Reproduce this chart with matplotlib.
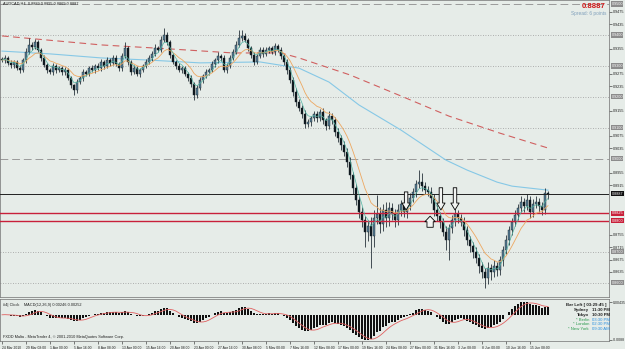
import numpy as np
import pandas as pd
import matplotlib
matplotlib.use('Agg')
import matplotlib.pyplot as plt
import matplotlib.transforms as mtrans

plt.rcParams['font.family'] = ['Liberation Sans', 'DejaVu Sans']

# AUDCAD H4 closes, in pips (~2 H4 bars per value)
close_pips = [
    9319, 9326, 9310, 9303, 9313, 9293, 9287, 9319, 9345, 9368,
    9361, 9377, 9352, 9326, 9303, 9287, 9280, 9300, 9287, 9293,
    9280, 9287, 9261, 9238, 9222, 9248, 9261, 9280, 9274, 9293,
    9287, 9300, 9293, 9313, 9300, 9319, 9310, 9326, 9306, 9293,
    9332, 9358, 9313, 9280, 9293, 9274, 9287, 9300, 9313, 9326,
    9339, 9358, 9352, 9384, 9400, 9377, 9335, 9313, 9300, 9287,
    9293, 9274, 9261, 9242, 9206, 9229, 9255, 9267, 9280, 9287,
    9306, 9319, 9332, 9326, 9287, 9300, 9326, 9345, 9368, 9390,
    9397, 9384, 9358, 9335, 9313, 9332, 9352, 9339, 9352, 9358,
    9345, 9364, 9352, 9332, 9313, 9287, 9255, 9216, 9184, 9164,
    9145, 9112, 9119, 9132, 9145, 9132, 9151, 9125, 9106, 9138,
    9125, 9087, 9067, 9045, 9022, 8990, 8948, 8906, 8867, 8828,
    8802, 8764, 8783, 8751, 8809, 8822, 8789, 8835, 8809, 8841,
    8822, 8802, 8835, 8854, 8828, 8848, 8873, 8893, 8919, 8925,
    8912, 8899, 8893, 8873, 8835, 8815, 8796, 8764, 8738, 8777,
    8802, 8822, 8809, 8796, 8770, 8738, 8718, 8699, 8680, 8654,
    8634, 8615, 8647, 8634, 8654, 8641, 8673, 8706, 8738, 8770,
    8796, 8819, 8841, 8861, 8848, 8867, 8828, 8854, 8861, 8848,
    8835, 8889, 8887]
first_open = 9322

# wick lengths beyond the body, pips
hi_ext = [
    6, 8, 5, 9, 7, 6, 10, 8, 12, 22,
    8, 10, 6, 7, 9, 5, 8, 10, 6, 8,
    7, 9, 6, 8, 5, 10, 7, 9, 6, 8,
    9, 6, 8, 10, 7, 9, 6, 11, 8, 7,
    10, 19, 8, 6, 9, 7, 8, 6, 10, 9,
    8, 12, 7, 14, 23, 9, 7, 8, 6, 9,
    7, 8, 6, 9, 7, 10, 8, 6, 9, 7,
    10, 8, 12, 7, 9, 8, 10, 9, 12, 26,
    20, 9, 7, 8, 10, 7, 9, 8, 10, 6,
    8, 9, 7, 10, 6, 8, 10, 9, 12, 8,
    10, 12, 9, 8, 11, 9, 10, 12, 8, 15,
    10, 9, 12, 10, 14, 12, 15, 10, 12, 14,
    18, 12, 20, 30, 25, 60, 22, 18, 25, 20,
    18, 15, 20, 14, 18, 12, 16, 14, 12, 39,
    30, 14, 12, 16, 12, 15, 14, 12, 18, 14,
    16, 20, 14, 12, 15, 12, 14, 12, 16, 14,
    12, 14, 20, 15, 18, 12, 14, 12, 16, 14,
    12, 16, 14, 20, 12, 18, 14, 16, 18, 12,
    14, 16, 6]
lo_ext = [
    7, 9, 6, 8, 10, 6, 9, 7, 8, 6,
    9, 7, 8, 10, 6, 9, 7, 8, 10, 6,
    8, 10, 7, 9, 16, 8, 6, 9, 7, 8,
    6, 9, 7, 8, 10, 6, 9, 8, 7, 10,
    8, 7, 9, 10, 6, 8, 9, 7, 6, 8,
    9, 7, 8, 6, 8, 10, 9, 7, 10, 8,
    9, 8, 10, 9, 16, 10, 8, 9, 7, 8,
    7, 9, 8, 10, 8, 9, 7, 8, 6, 8,
    9, 7, 10, 8, 9, 8, 7, 9, 8, 10,
    7, 9, 8, 10, 9, 12, 10, 14, 12, 10,
    14, 12, 10, 13, 10, 12, 9, 14, 12, 10,
    12, 14, 12, 15, 12, 16, 14, 18, 15, 20,
    22, 50, 30, 104, 35, 20, 28, 22, 30, 25,
    18, 22, 16, 20, 15, 18, 14, 12, 15, 14,
    16, 12, 14, 15, 18, 16, 20, 14, 32, 65,
    16, 18, 15, 14, 20, 16, 18, 20, 15, 22,
    20, 32, 18, 24, 16, 20, 15, 18, 14, 16,
    15, 12, 16, 14, 18, 14, 20, 16, 14, 18,
    16, 12, 18]

# slow moving averages (bar index, price)
red_ma_bar = [0, 33, 56, 77, 93, 99, 116, 133, 149, 166, 182]
red_ma_val = [0.9397, 0.9368, 0.9355, 0.9342, 0.9342, 0.9326, 0.9271,
              0.9203, 0.9138, 0.9083, 0.9035]
blue_ma_bar = [0, 16, 33, 49, 66, 86, 99, 109, 119, 133, 148, 155, 165, 170, 182]
blue_ma_val = [0.9348, 0.9339, 0.9326, 0.9319, 0.9310, 0.9313, 0.9293, 0.9248,
               0.9174, 0.9093, 0.8996, 0.8964, 0.8925, 0.8912, 0.8899]

time_labels = ['24 Mar 2010', '29 Mar 08:00', '1 Apr 00:00', '5 Apr 16:00',
               '8 Apr 08:00', '13 Apr 00:00', '15 Apr 16:00', '20 Apr 08:00',
               '23 Apr 00:00', '27 Apr 16:00', '30 Apr 08:00', '5 May 00:00',
               '7 May 16:00', '12 May 08:00', '17 May 00:00', '19 May 16:00',
               '24 May 08:00', '27 May 00:00', '31 May 16:00', '3 Jun 08:00',
               '8 Jun 00:00', '10 Jun 16:00', '15 Jun 08:00']
label_step = 8

price_ticks = [0.9475, 0.9435, 0.9395, 0.9355, 0.9315, 0.9275, 0.9235, 0.9195,
               0.9155, 0.9115, 0.9075, 0.9035, 0.8995, 0.8955, 0.8915, 0.8875,
               0.8835, 0.8795, 0.8755, 0.8715, 0.8675, 0.8635, 0.8595]
dotted_levels = [0.94, 0.93, 0.92, 0.91, 0.87, 0.86]
dashed_levels = [0.95, 0.90]
red_levels = [0.8825, 0.8800]
bid = 0.8887

down_arrow_bar = [134.7, 146.3, 151.0]
down_arrow_price = [0.8835, 0.8835, 0.8835]
down_arrow_len = [13, 16, 16]
up_arrow_bar = [142.7]
up_arrow_price = [0.8815]

clock_names = ['Sydney', 'Tokyo', '* Berlin', '* London', '* New York']
clock_times = ['11:30 PM', '10:30 PM', '03:30 PM', '02:30 PM', '09:30 AM']

BG = '#E6ECE8'
W, H = 625, 349


def fbox(x0, y0, x1, y1):
    return [x0 / W, 1 - y1 / H, (x1 - x0) / W, (y1 - y0) / H]


def fpos(x, y):
    return x / W, 1 - y / H


c = np.array(close_pips) / 1e4
o = np.r_[first_open / 1e4, c[:-1]]
hi = np.maximum(o, c) + np.array(hi_ext) / 1e4
lo = np.minimum(o, c) - np.array(lo_ext) / 1e4
x = np.arange(len(c))
s = pd.Series(c)
ema_fast = s.ewm(span=4, adjust=False).mean()
ema_mid = s.ewm(span=10, adjust=False).mean()
macd = s.ewm(span=6, adjust=False).mean() - s.ewm(span=13, adjust=False).mean()
signal = macd.rolling(5, min_periods=1).mean()

fig = plt.figure(figsize=(6.25, 3.49), dpi=100, facecolor=BG)
ax = fig.add_axes(fbox(0, 0, 609, 297), facecolor=BG)
axm = fig.add_axes(fbox(0, 299, 609, 341), facecolor=BG)
xl = (-2 / 3, 607 / 3)

# horizontal objects
for lv in dotted_levels:
    ax.axhline(lv, color='#9a9a9a', lw=0.6, ls=(0, (1, 2)), zorder=1)
for lv in dashed_levels:
    ax.axhline(lv, color='#9a9a9a', lw=0.7, ls=(0, (8, 4)), zorder=1)
for lv in red_levels:
    ax.axhline(lv, color='#c8203a', lw=1.0, zorder=4)
ax.axhline(bid, color='#202020', lw=0.7, zorder=4)

# moving averages
ax.plot(red_ma_bar, red_ma_val, color='#d06060', lw=0.8, ls=(0, (6, 4)), zorder=2)
ax.plot(blue_ma_bar, blue_ma_val, color='#86c8e6', lw=0.8, zorder=2)
ax.plot(x, ema_mid, color='#eda760', lw=0.6, zorder=5)
ax.plot(x, ema_fast, color='#52b5a3', lw=0.5, zorder=5)

# candles
up = c >= o
ax.vlines(x, lo, hi, color='#17232b', lw=0.55, zorder=3)
body = np.maximum(np.abs(c - o), 0.00015)
ax.bar(x, body, bottom=np.minimum(o, c), width=0.7,
       color=np.where(up, '#557c93', '#0d161b'), edgecolor='#17232b',
       linewidth=0.3, zorder=3)

# arrows
for b, p, ln in zip(down_arrow_bar, down_arrow_price, down_arrow_len):
    ax.annotate('', xy=(b, p), xytext=(0, ln), textcoords='offset points',
                arrowprops=dict(arrowstyle='simple,head_length=0.5,head_width=0.6,tail_width=0.25',
                                fc='#f2f4f2', ec='black', lw=0.6, mutation_scale=10,
                                shrinkA=0, shrinkB=0), zorder=6)
for b, p in zip(up_arrow_bar, up_arrow_price):
    ax.annotate('', xy=(b, p), xytext=(0, -8), textcoords='offset points',
                arrowprops=dict(arrowstyle='simple,head_length=0.4,head_width=0.75,tail_width=0.45',
                                fc='#f2f4f2', ec='black', lw=0.6, mutation_scale=10,
                                shrinkA=0, shrinkB=0), zorder=6)

tag_levels = dotted_levels + dashed_levels + red_levels + [bid]
shown_ticks = [t for t in price_ticks if min(abs(t - g) for g in tag_levels) > 0.0015]

ax.set_xlim(*xl)
ax.set_ylim(0.8554, 0.9513)
ax.set_xticks([])
ax.yaxis.tick_right()
ax.set_yticks(shown_ticks)
ax.set_yticklabels(['%.4f' % v for v in shown_ticks])
ax.tick_params(axis='y', length=2, width=0.4, labelsize=2.7, pad=1, colors='#202020')
for sp in ax.spines.values():
    sp.set_linewidth(0.5)
    sp.set_color('#707070')

# price labels for the line objects
tr = mtrans.blended_transform_factory(ax.transAxes, ax.transData)


def axis_tag(level, fc):
    ax.text(1.004, level, '%.4f' % level, transform=tr, fontsize=2.7, color='white',
            ha='left', va='center', clip_on=False, zorder=10,
            bbox=dict(boxstyle='square,pad=0.15', fc=fc, ec='none'))


for lv in dotted_levels + dashed_levels:
    axis_tag(lv, '#8c8c8c')
for lv in red_levels:
    axis_tag(lv, '#c8203a')
axis_tag(bid, '#101010')

# MACD window
axm.bar(x, macd, width=0.55, color='#111111', zorder=2)
axm.plot(x, signal, color='#e06060', lw=0.6, zorder=3)
mn, mx = macd.min(), macd.max()
axm.set_ylim(mn * 1.02, max(mx * 1.15, -mn * 16 / 26))
axm.set_xlim(*xl)
axm.yaxis.tick_right()
axm.set_yticks([mx, mn * 0.97])
axm.set_yticklabels(['%.5f' % mx, '%.4f' % mn])
axm.tick_params(axis='y', length=2, width=0.4, labelsize=2.5, pad=0.8, colors='#202020')
tick_bars = [i * label_step for i in range(len(time_labels))]
axm.set_xticks(tick_bars)
axm.set_xticklabels(time_labels)
for t in axm.get_xticklabels():
    t.set_horizontalalignment('left')
axm.tick_params(axis='x', length=2, width=0.4, labelsize=2.4, pad=1.5, colors='#202020')
for sp in axm.spines.values():
    sp.set_linewidth(0.5)
    sp.set_color('#707070')

# texts
fig.text(*fpos(3, 4), 'AUDCAD,H4  0.8889 0.8895 0.8869 0.8887', fontsize=2.8,
         color='#202020', va='center')
fig.text(*fpos(606, 7), '0.8887', fontsize=5.6, fontweight='bold', color='#d01818',
         ha='right', va='center')
fig.text(*fpos(606, 13.5), 'Spread: 6 points', fontsize=3.4, color='#7f9fbb',
         ha='right', va='center')
fig.text(*fpos(3, 305), '#4| Clock    MACD(12,26,9) 0.00246 0.00252', fontsize=2.8,
         color='#202020', va='center')
fig.text(*fpos(3, 337), 'FXDD Malta - MetaTrader 4, \u00a9 2001-2010 MetaQuotes Software Corp.',
         fontsize=2.8, color='#202020', va='center')

fig.text(*fpos(606, 305), 'Bar Left [ 03:29:45 ]', fontsize=3.2, fontweight='bold',
         color='#202020', ha='right', va='center')
for k, (nm, tm) in enumerate(zip(clock_names, clock_times)):
    yy = 310 + k * 4.8
    col_n = '#202020' if k < 2 else '#2e9b50'
    col_t = '#202020' if k < 2 else '#2a8fe0'
    fig.text(*fpos(589, yy), nm, fontsize=3.1, fontweight='bold' if k < 2 else 'normal',
             color=col_n, ha='right', va='center')
    fig.text(*fpos(592, yy), tm, fontsize=3.1, fontweight='bold' if k < 2 else 'normal',
             color=col_t, ha='left', va='center')

fig.savefig('out.png', dpi=100, facecolor=BG)
